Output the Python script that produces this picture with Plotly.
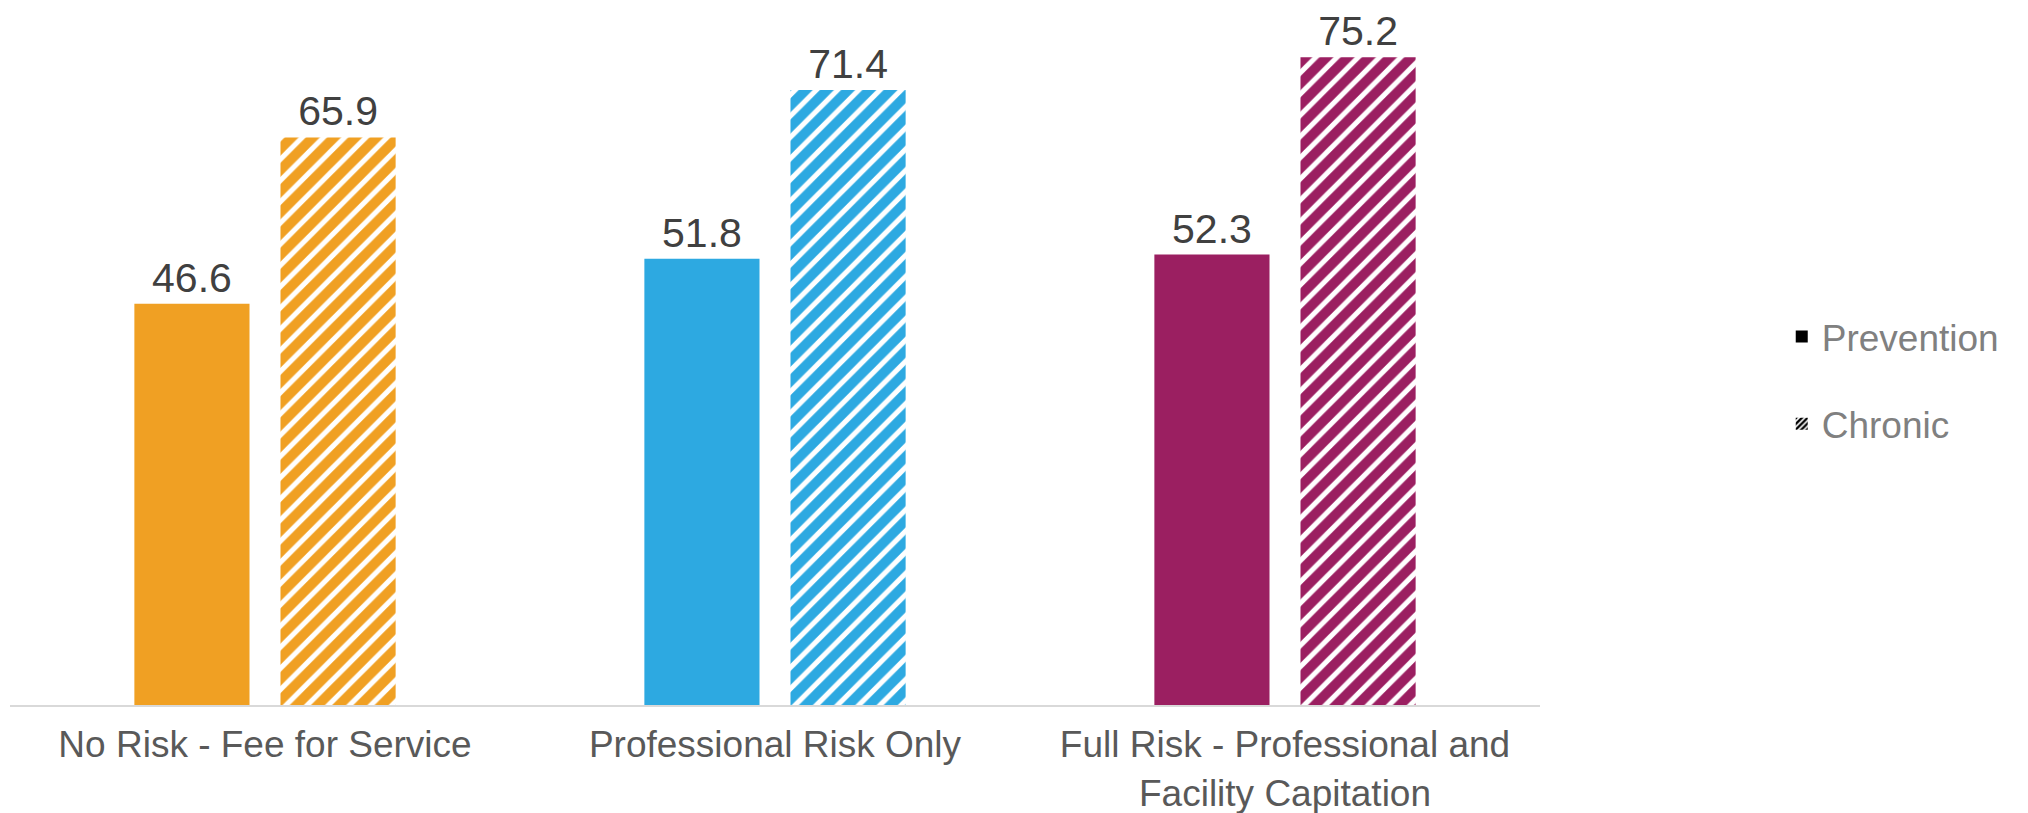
import plotly.graph_objects as go

categories = ["No Risk - Fee for Service", "Professional Risk Only",
              "Full Risk - Professional and<br>Facility Capitation"]
prevention = [46.6, 51.8, 52.3]
chronic = [65.9, 71.4, 75.2]
group_colors = ["#F0A023", "#2DA9E1", "#9B1F61"]
series_names = ["Prevention", "Chronic"]

FONT = "Liberation Sans, Arial, sans-serif"

fig = go.Figure()
fig.add_trace(go.Bar(
    x=categories, y=prevention, name=series_names[0], offsetgroup="a",
    marker=dict(color=group_colors, line=dict(width=0)),
    texttemplate="%{y:.1f}", textposition="outside",
    textfont=dict(size=41, color="#404040", family=FONT),
    cliponaxis=False, showlegend=False,
))
fig.add_trace(go.Bar(
    x=categories, y=chronic, name=series_names[1], offsetgroup="b",
    marker=dict(color=group_colors, line=dict(width=0),
                pattern=dict(shape="/", fgcolor=group_colors, bgcolor="white",
                             size=15, solidity=0.66, fillmode="replace")),
    texttemplate="%{y:.1f}", textposition="outside",
    textfont=dict(size=41, color="#404040", family=FONT),
    cliponaxis=False, showlegend=False,
))
# legend entries (black swatches)
fig.add_trace(go.Bar(
    x=[categories[0]], y=[None], name=series_names[0], offsetgroup="a",
    marker=dict(color="black", line=dict(width=0)), legendgroup="p",
))
fig.add_trace(go.Bar(
    x=[categories[0]], y=[None], name=series_names[1], offsetgroup="b",
    marker=dict(color="black", line=dict(width=0),
                pattern=dict(shape="/", fgcolor="black", bgcolor="white",
                             size=5, solidity=0.6, fillmode="replace")),
    legendgroup="c",
))

fig.update_layout(
    width=2028, height=813,
    margin=dict(l=10, r=488, t=16, b=108),
    paper_bgcolor="white", plot_bgcolor="white",
    barmode="group", bargap=0.427, bargroupgap=0.212,
    font=dict(family=FONT, size=37, color="#595959"),
    showlegend=True,
    legend=dict(x=1.158, xanchor="left", y=0.471, yanchor="middle",
                font=dict(size=37, color="#808080", family=FONT),
                tracegroupgap=36, traceorder="grouped",
                bgcolor="rgba(0,0,0,0)"),
    xaxis=dict(showline=True, linecolor="#D9D9D9", linewidth=2,
               ticks="", showgrid=False, zeroline=False, automargin=False,
               tickfont=dict(size=37, color="#595959", family=FONT),
               ticklabelstandoff=6),
    yaxis=dict(range=[0, 80], visible=False, showgrid=False, zeroline=False,
               automargin=False),
)

fig.write_html("out.html")
